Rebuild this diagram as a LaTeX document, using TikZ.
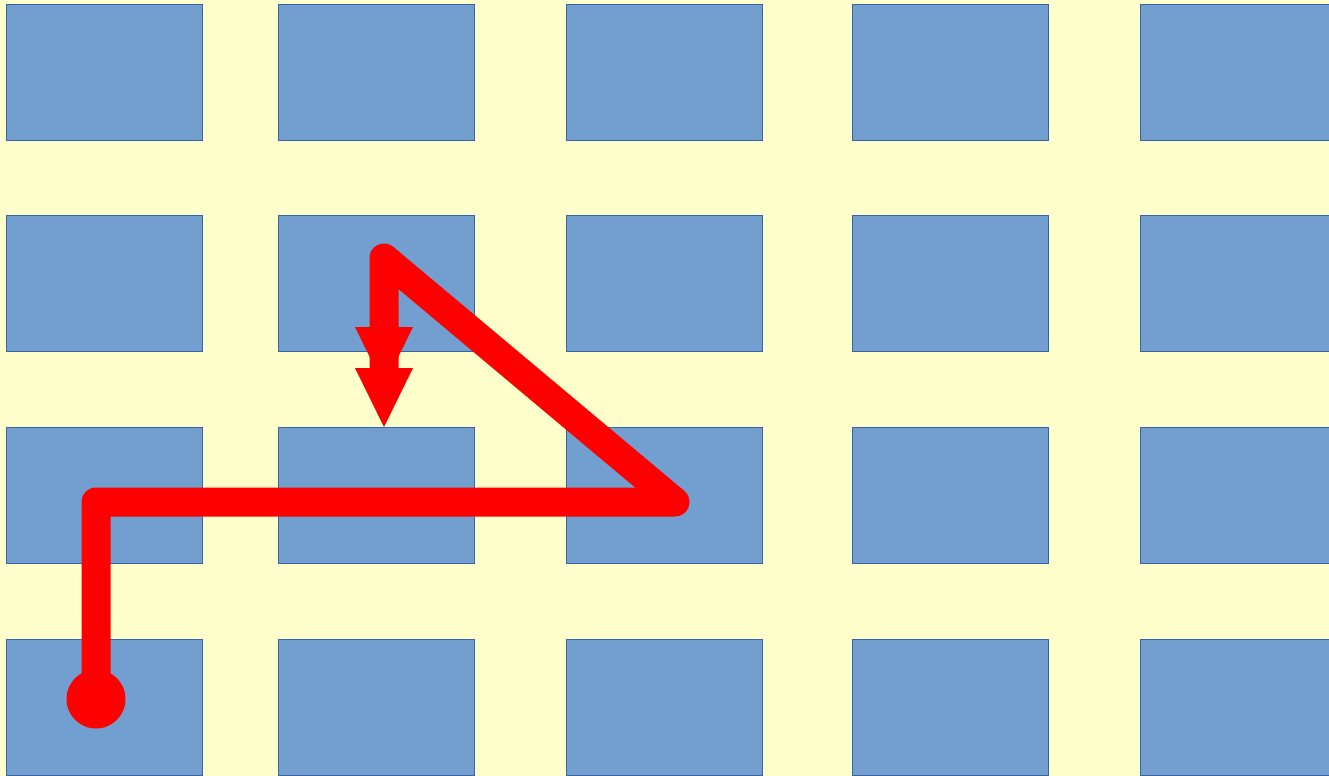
\documentclass[tikz,border=0pt]{standalone}
\usetikzlibrary{arrows.meta, positioning}
\definecolor{paperbg}{HTML}{FFFFCC}
\definecolor{blockfill}{HTML}{729FCF}
\definecolor{blockedge}{HTML}{3465A4}
\definecolor{routered}{HTML}{FF0000}
\tikzset{
  block/.style={rectangle, fill=blockfill, draw=blockedge, line width=0.5pt,
    anchor=north west, minimum width=98pt, minimum height=68pt,
    inner sep=0pt, outer sep=0pt},
  startdot/.style={circle, fill=routered, minimum size=29.5pt,
    inner sep=0pt},
  route/.style={draw=routered, line width=14.5pt, line join=round,
    -{Triangle[width=29pt, length=29.5pt, line width=0pt, sep=-9pt]
      Triangle[width=29pt, length=29.5pt, line width=0pt]}},
}

\begin{document}
\begin{tikzpicture}[x=0.5pt, y=-0.5pt]
  \fill[paperbg] (0,0) rectangle (1329,776);
  \useasboundingbox (0,0) rectangle (1329,776);
  \clip (0,0) rectangle (1329,776);
  % grid of blocks
  \foreach \x [count=\c] in {6,278,566,852,1140}
    \foreach \y [count=\r] in {4,215,427,639}
      \node[block] (b\r\c) at (\x,\y) {};
  % route
  \node[startdot] (start) at (96,699) {};
  \coordinate (bend) at (96,502);
  \coordinate (turn) at (675,502);
  \coordinate (apex) at (384,258);
  \coordinate (goal) at (384,427);
  \draw[route] (start.center) -- (bend) -- (turn) -- (apex) -- (goal);
\end{tikzpicture}
\end{document}
